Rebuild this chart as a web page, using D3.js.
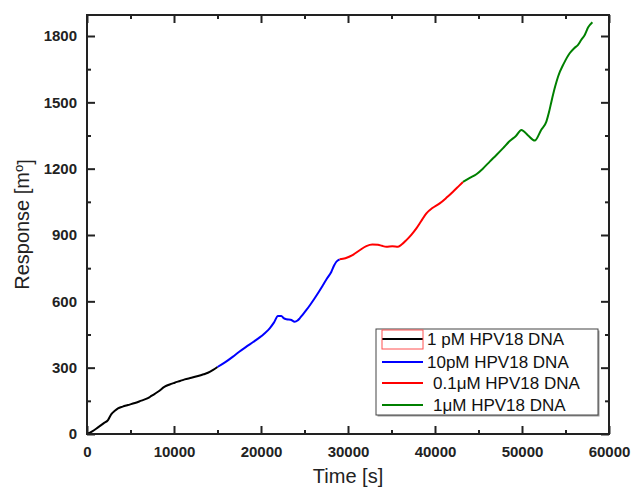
<!DOCTYPE html>
<html>
<head>
<meta charset="utf-8">
<script src="https://cdn.jsdelivr.net/npm/d3@7"></script>
<style>
  body { margin: 0; background: #fff; }
  text { font-family: "Liberation Sans", Arial, sans-serif; }
</style>
</head>
<body>
<svg width="633" height="493"></svg>
<script>
// series: time [s] and response [m°]
var time1pM = [0, 600, 1265, 1900, 2414, 2800, 3200, 3560, 4100, 4710, 5500, 6250, 7000, 7400, 8200, 8930, 9500, 10080, 10700, 11230, 12000, 12760, 13400, 13900, 14500, 15000]
var resp1pM = [0, 12, 30, 48, 63, 90, 105, 116, 124, 131, 140, 151, 162, 172, 192, 214, 224, 232, 240, 247, 254, 262, 270, 277, 290, 303]

var time10pM = [15000, 15900, 16780, 17500, 18320, 19100, 19850, 20400, 21000, 21500, 21950, 22340, 22600, 22920, 23400, 23870, 24200, 24450, 24800, 25220, 25700, 26170, 26600, 27130, 27600, 28090, 28400, 28660, 29040]
var resp10pM = [303, 325, 350, 372, 395, 416, 437, 455, 478, 505, 534, 534, 524, 519, 517, 508, 513, 523, 540, 561, 587, 614, 640, 674, 704, 734, 762, 779, 790]

var time01uM = [29040, 29700, 30570, 31300, 32110, 32800, 33450, 33900, 34410, 35100, 35750, 36200, 36710, 37300, 37860, 38400, 39010, 39700, 40540, 41300, 42070, 42700, 43220]
var resp01uM = [790, 795, 810, 830, 850, 857, 856, 851, 847, 849, 847, 858, 877, 902, 930, 962, 998, 1022, 1043, 1068, 1096, 1120, 1140]

var time1uM = [43220, 44000, 44760, 45500, 46290, 47060, 47800, 48590, 49300, 49930, 50700, 51460, 52200, 52800, 53100, 53380, 53800, 54140, 54800, 55480, 56000, 56440, 56800, 57210, 57590, 58090]
var resp1uM = [1140, 1158, 1175, 1200, 1232, 1262, 1292, 1325, 1348, 1375, 1350, 1327, 1375, 1413, 1455, 1503, 1570, 1616, 1675, 1722, 1745, 1760, 1782, 1805, 1838, 1862]

var seriesNames = ["1 pM HPV18 DNA", "10pM HPV18 DNA", "0.1\u03bcM HPV18 DNA", "1\u03bcM HPV18 DNA"]
var seriesColors = ["#000000", "#0000ff", "#ff0000", "#008000"]

var xTicks = [0, 10000, 20000, 30000, 40000, 50000, 60000]
var xMinor = [5000, 15000, 25000, 35000, 45000, 55000]
var yTicks = [0, 300, 600, 900, 1200, 1500, 1800]
var yMinor = [150, 450, 750, 1050, 1350, 1650]

var series = [
    { name: seriesNames[0], t: time1pM, r: resp1pM },
    { name: seriesNames[1], t: time10pM, r: resp10pM },
    { name: seriesNames[2], t: time01uM, r: resp01uM },
    { name: seriesNames[3], t: time1uM, r: resp1uM }
]

var margin = { left: 87, top: 15, right: 24, bottom: 59 },
    width = 633 - margin.left - margin.right,
    height = 493 - margin.top - margin.bottom

var svg = d3.select("svg")

var g = svg.append("g")
    .attr("transform", "translate(" + margin.left + "," + margin.top + ")")

var xScale = d3.scaleLinear().domain([0, 60000]).range([0, width])
var yScale = d3.scaleLinear().domain([0, 1895]).range([height, 0])

function styleAxis(sel, labels) {
    sel.select(".domain").remove()
    sel.selectAll("line").attr("stroke", "#222").attr("stroke-width", 2)
    sel.selectAll("text")
        .attr("fill", "#222")
        .style("font-size", "15px")
        .style("font-weight", "bold")
    if (!labels) sel.selectAll("text").remove()
}

// bottom / left with labels
g.append("g").attr("transform", "translate(0," + height + ")")
    .call(d3.axisBottom(xScale).tickValues(xTicks).tickSize(-8).tickPadding(12).tickFormat(d3.format("d")))
    .call(styleAxis, true)
g.append("g").attr("transform", "translate(0," + height + ")")
    .call(d3.axisBottom(xScale).tickValues(xMinor).tickSize(-4))
    .call(styleAxis, false)
g.append("g")
    .call(d3.axisLeft(yScale).tickValues(yTicks).tickSize(-8).tickPadding(10).tickFormat(d3.format("d")))
    .call(styleAxis, true)
g.append("g")
    .call(d3.axisLeft(yScale).tickValues(yMinor).tickSize(-4))
    .call(styleAxis, false)

// mirrored top / right ticks
g.append("g")
    .call(d3.axisTop(xScale).tickValues(xTicks).tickSize(-8))
    .call(styleAxis, false)
g.append("g")
    .call(d3.axisTop(xScale).tickValues(xMinor).tickSize(-4))
    .call(styleAxis, false)
g.append("g").attr("transform", "translate(" + width + ",0)")
    .call(d3.axisRight(yScale).tickValues(yTicks).tickSize(-8))
    .call(styleAxis, false)
g.append("g").attr("transform", "translate(" + width + ",0)")
    .call(d3.axisRight(yScale).tickValues(yMinor).tickSize(-4))
    .call(styleAxis, false)

var line = d3.line()
    .x(function (d) { return xScale(d[0]) })
    .y(function (d) { return yScale(d[1]) })
    .curve(d3.curveMonotoneX)

g.selectAll("path.series")
    .data(series)
    .join("path")
    .attr("class", "series")
    .attr("fill", "none")
    .attr("stroke", function (d, i) { return seriesColors[i] })
    .attr("stroke-width", 2)
    .attr("stroke-linejoin", "round")
    .attr("d", function (d) { return line(d3.zip(d.t, d.r)) })

// frame
g.append("rect")
    .attr("width", width).attr("height", height)
    .attr("fill", "none").attr("stroke", "#222").attr("stroke-width", 2)

// axis titles
svg.append("text")
    .attr("x", margin.left + width / 2).attr("y", 483)
    .attr("text-anchor", "middle")
    .attr("fill", "#222")
    .style("font-size", "20px")
    .text("Time [s]")

var yt = svg.append("text")
    .attr("transform", "translate(29," + (margin.top + height / 2) + ") rotate(-90)")
    .attr("text-anchor", "middle")
    .attr("fill", "#222")
    .style("font-size", "20px")
yt.append("tspan").text("Response [m")
yt.append("tspan").attr("dy", "-0.45em").style("font-size", "13px").text("o")
yt.append("tspan").attr("dy", "0.45em").text("]")

// legend
var legend = svg.append("g").attr("transform", "translate(376,329)")
legend.append("rect")
    .attr("x", 1.5).attr("y", 1.5).attr("width", 222).attr("height", 86)
    .attr("fill", "#999")
legend.append("rect")
    .attr("width", 222).attr("height", 86)
    .attr("fill", "#fff").attr("stroke", "#444").attr("stroke-width", 1)

var rowY = [10, 33, 54, 76]
var textX = [51, 51, 57, 57]
legend.selectAll("line.sample")
    .data(seriesNames)
    .join("line")
    .attr("class", "sample")
    .attr("x1", 6).attr("x2", 47)
    .attr("y1", function (d, i) { return rowY[i] })
    .attr("y2", function (d, i) { return rowY[i] })
    .attr("stroke", function (d, i) { return seriesColors[i] })
    .attr("stroke-width", 2)
legend.selectAll("text.label")
    .data(seriesNames)
    .join("text")
    .attr("class", "label")
    .attr("x", function (d, i) { return textX[i] })
    .attr("y", function (d, i) { return rowY[i] })
    .attr("dy", "0.36em")
    .attr("fill", "#111")
    .style("font-size", "17px")
    .text(function (d) { return d })
// red highlight box around first sample
legend.append("rect")
    .attr("x", 6).attr("y", 1).attr("width", 41).attr("height", 19)
    .attr("fill", "none").attr("stroke", "#ff5050").attr("stroke-width", 1)
</script>
</body>
</html>
